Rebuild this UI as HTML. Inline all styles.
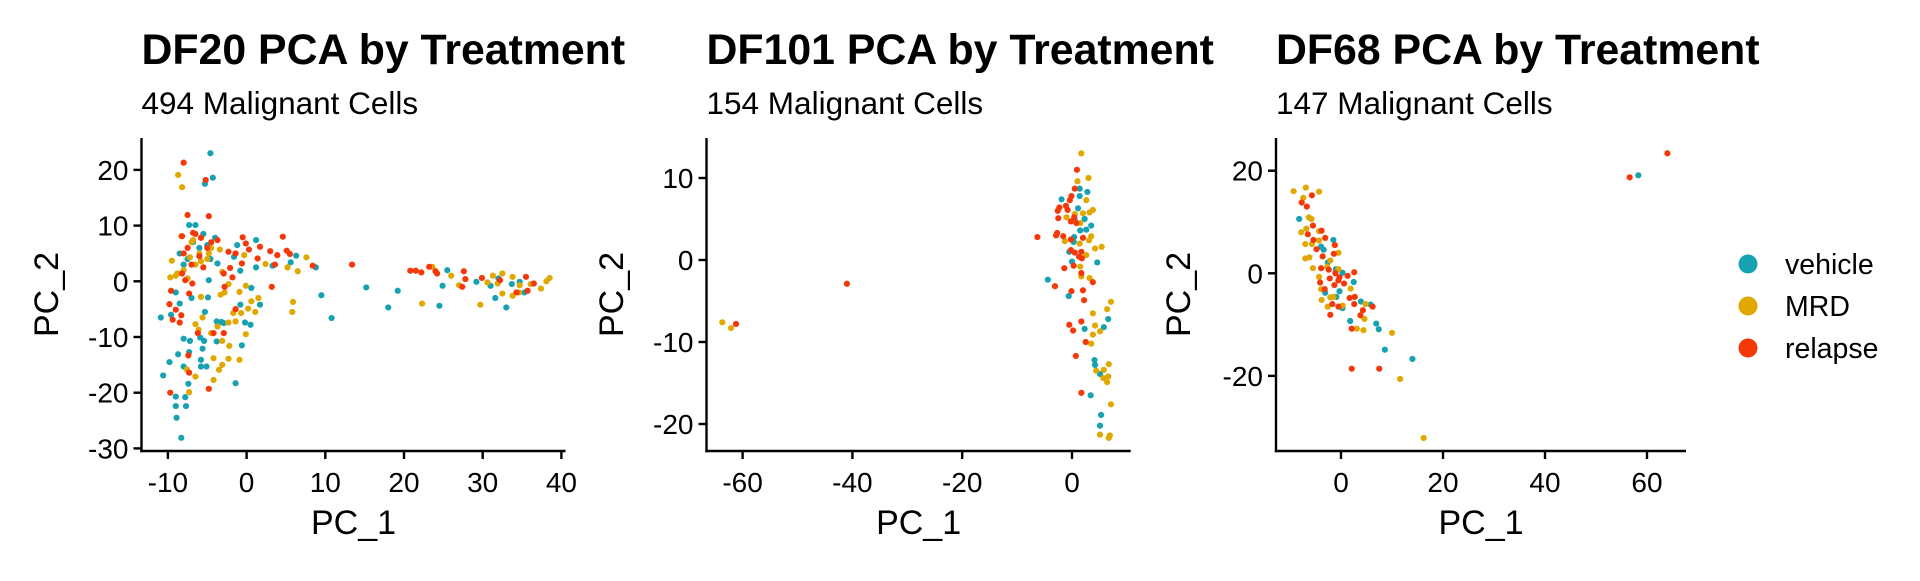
<!DOCTYPE html>
<html><head><meta charset="utf-8"><style>
html,body{margin:0;padding:0;background:#fff;}
svg text{font-family:"Liberation Sans",Arial,sans-serif;fill:#000;}
</style></head><body>
<svg id="chart" width="1920" height="576" viewBox="0 0 1920 576" xmlns="http://www.w3.org/2000/svg"></svg>
<script>
// Panel 1 (DF20)
const p1Vehicle = [[-4.6,23.0],[-4.3,18.6],[-5.3,17.5],[-7.3,10.1],[-6.5,10.1],[-10.6,-16.9],[-9.8,-14.5],[-8.7,-13.1],[-10.9,-6.5],[-9.0,-20.7],[-9.0,-22.4],[-7.7,-22.4],[-8.9,-24.5],[-8.3,-28.1],[-7.8,-20.8],[-8.0,-15.3],[-7.4,-18.4],[-8.0,-10.3],[-7.2,-10.7],[-7.3,-12.7],[-5.6,-12.1],[-5.8,-14.1],[-5.8,-15.3],[-5.1,-15.3],[-5.9,-10.1],[-5.4,-10.7],[-3.8,-10.8],[-1.4,-18.3],[-0.6,-11.5],[-0.2,-7.4],[0.5,-7.8],[-0.8,-4.2],[0.6,-1.2],[-2.9,-7.5],[-3.2,-7.3],[-3.8,-7.2],[-5.3,-5.5],[-4.9,-2.9],[-4.8,0.2],[-4.6,4.0],[-3.7,3.2],[-1.6,4.4],[-0.8,1.9],[-1.2,6.5],[1.2,7.4],[1.2,2.5],[3.3,2.8],[1.7,-4.2],[5.6,3.4],[6.3,4.6],[8.8,2.5],[9.5,-2.5],[10.8,-6.6],[15.2,-1.1],[18.0,-4.7],[19.2,-1.7],[24.9,-0.8],[24.5,-4.4],[25.5,2.0],[29.2,-0.1],[31.0,-0.8],[31.6,-3.0],[33.0,-4.7],[35.3,-2.0],[32.0,0.5],[33.7,-0.5],[34.7,-0.1],[-8.5,5],[-7.5,4],[-6.8,7],[-5.5,8.5],[-5,6.5],[-4.0,7.8],[-6,6],[-8,3],[-9,-2],[-8.5,-4],[-9.6,-6],[-7,-3]];
const p1MRD = [[-8.7,19.1],[-8.2,16.9],[-8.3,8.1],[-8.8,1.4],[-9.5,3.7],[-9.7,0.7],[-7.2,4.3],[-6.8,7.4],[-5.8,3.6],[-4.8,5.0],[-3.4,5.7],[-3.1,1.7],[-2.3,-0.5],[-0.3,4.7],[2.4,3.1],[5.2,2.5],[6.5,1.8],[7.6,4.3],[5.9,-3.7],[5.8,-5.5],[-0.1,-0.8],[-0.9,-1.9],[0.2,-4.9],[1.1,-5.5],[1.5,-3.0],[0.6,-3.6],[-0.7,-5.7],[-1.7,-5.7],[-1.4,-7.2],[-2.3,-7.4],[-3.7,-8.1],[-0.1,-9.5],[-0.9,-14.1],[-2.2,-11.6],[-2.3,-13.9],[-3.1,-15.0],[-3.5,-15.9],[-4.2,-17.7],[-4.2,-13.8],[-3.1,-10.7],[-4.5,-9.3],[-6.5,-7.7],[-6.1,-8.7],[-5.6,-6.5],[-6.5,-17.1],[-7.3,-19.9],[-7.6,-15.8],[-5.8,-2.8],[-3.3,-2.4],[-2.8,-2.0],[22.3,-4.0],[23.6,2.6],[26.0,1.0],[27.0,-0.7],[29.7,-4.2],[30.6,-0.2],[31.3,1.0],[32.5,1.4],[33.8,0.8],[34.6,-2.0],[33.8,-2.6],[37.4,-1.3],[38.1,0.0],[38.5,0.6],[36.1,-0.5],[34.7,-0.7],[32.5,-2.2],[31.9,-0.4],[-7,7],[-6,5],[-5,4],[-4.5,6],[-8,2],[-7.5,0.5],[-9,1],[-6.5,3]];
const p1Relapse = [[-8.0,21.3],[-5.2,18.2],[-7.5,11.9],[-4.8,11.7],[-8.2,8.1],[-6.8,8.7],[-3.7,7.4],[-0.5,7.9],[-0.1,6.8],[0.3,5.7],[1.7,6.2],[1.4,4.1],[-0.6,3.2],[-1.4,5.0],[-2.3,5.3],[-2.9,1.4],[-2.1,2.4],[-2.8,-1.0],[-1.8,0.7],[-1.4,-5.0],[3.0,5.4],[3.9,4.7],[4.6,8.0],[5.1,5.5],[5.5,4.9],[3.6,3.0],[3.2,-1.0],[8.4,2.8],[13.4,3.0],[20.8,1.9],[21.5,1.9],[22.2,1.6],[23.2,2.6],[24.0,1.8],[24.2,1.4],[27.6,1.8],[27.8,0.4],[27.4,-1.0],[29.9,0.6],[32.2,0.2],[34.3,-2.0],[35.5,0.8],[36.5,-0.4],[35.7,-1.7],[-9.6,-1.7],[-9.8,-4.1],[-9.4,-6.9],[-8.5,-7.4],[-8.3,-6.1],[-9.0,-5.1],[-7.3,-2.2],[-7.8,0.2],[-8.2,1.4],[-6.9,-0.4],[-9.7,-20.0],[-7.4,-13.3],[-7.3,-16.4],[-4.8,-19.3],[-4.2,-9.3],[-6.2,-9.3],[-2.9,-9.3],[-6.5,8.5],[-5.8,7.8],[-5,6],[-6,4.5],[-7,3],[-8,5],[-4.5,7],[-5.5,2.5],[-7.5,6]];
// Panel 2 (DF101)
const p2Vehicle = [[1.4,8.7],[2.8,8.3],[1.4,7.8],[-1.9,7.4],[1.1,6.3],[2.3,5.0],[3.5,4.2],[2.6,3.7],[1.5,3.6],[0.4,2.8],[0.3,2.2],[-0.5,1.0],[0.0,-0.2],[4.6,-0.3],[-4.4,-2.4],[-0.6,-4.4],[6.6,-7.2],[5.8,-8.2],[2.3,-8.4],[4.1,-12.2],[4.2,-12.8],[5.1,-13.9],[3.4,-16.5],[5.3,-18.9],[5.1,-20.2],[0.5,4.9]];
const p2MRD = [[-63.7,-7.6],[-62.1,-8.3],[1.7,13.0],[3.0,10.0],[1.0,9.6],[2.6,7.3],[3.8,6.1],[2.0,5.7],[3.2,5.8],[-1.0,5.2],[1.5,4.5],[3.5,2.9],[3.1,2.4],[-1.3,2.3],[1.4,2.0],[4.2,1.4],[5.4,1.6],[2.6,0.6],[1.5,-0.8],[1.7,-2.0],[3.2,-2.2],[7.1,-5.1],[6.4,-6.0],[3.8,-6.5],[4.2,-8.0],[5.1,-8.7],[3.8,-9.1],[3.5,-10.2],[6.7,-12.7],[4.4,-13.5],[5.8,-13.4],[5.7,-14.4],[6.6,-14.2],[6.4,-14.9],[7.1,-17.6],[5.1,-21.3],[6.7,-21.7],[6.9,-21.4],[0.5,5.6]];
const p2Relapse = [[-41.0,-2.9],[-61.2,-7.8],[0.9,11.0],[0.5,8.7],[-0.1,7.8],[-0.4,7.3],[-1.1,6.6],[-2.3,6.4],[-2.6,6.0],[-0.8,6.1],[-2.5,5.1],[0.4,5.2],[-0.2,4.7],[0.8,4.5],[-6.3,2.8],[-2.7,3.3],[-2.9,3.0],[-1.6,2.9],[-0.2,2.5],[2.0,2.7],[-0.2,1.2],[1.7,1.0],[0.5,0.9],[1.3,0.4],[1.8,0.2],[0.3,-0.7],[-1.4,-1.0],[1.7,-1.6],[3.8,-2.7],[-3.1,-3.2],[-0.1,-3.8],[2.0,-3.7],[2.2,-4.9],[-0.5,-7.9],[0.2,-8.6],[1.7,-7.5],[2.5,-10.0],[0.7,-11.7],[1.7,-16.2]];
// Panel 3 (DF68)
const p3Vehicle = [[58.3,19.1],[-8.2,10.6],[-1.5,6.5],[-3.4,4.6],[-2.6,2.1],[-1.0,0.8],[0.3,0.1],[2.5,-1.7],[-3.1,-3.8],[-0.3,-3.5],[-0.9,-4.6],[0.3,-6.8],[3.9,-5.5],[5.8,-6.1],[1.8,-9.3],[6.9,-9.8],[7.4,-10.9],[8.6,-14.9],[14.0,-16.7],[-3.9,5.2]];
const p3MRD = [[-9.3,16.0],[-6.9,16.7],[-4.3,15.9],[-7.4,14.7],[-6.3,10.9],[-5.8,10.6],[-6.8,8.7],[-7.8,8.0],[-4.3,8.2],[-7.0,5.7],[-5.7,5.7],[-4.3,6.4],[-7.0,2.9],[-6.2,3.1],[-5.5,1.0],[-2.7,1.3],[-0.5,4.0],[-0.5,0.8],[-4.3,-0.7],[-3.9,-3.1],[-2.1,-4.7],[-3.8,-5.2],[-2.6,-6.5],[1.9,-3.0],[0.3,-6.3],[4.8,-6.0],[4.6,-8.9],[3.1,-10.8],[4.4,-11.1],[10.0,-11.6],[11.6,-20.6],[16.2,-32.1],[-1.5,-4.6],[-2.1,2.5]];
const p3Relapse = [[64.0,23.4],[56.6,18.7],[-5.7,15.2],[-7.7,13.8],[-6.7,13.0],[-5.5,9.3],[-3.8,8.3],[-6.5,7.6],[-3.1,6.9],[-5.4,6.5],[-1.2,5.5],[-4.8,4.7],[-1.4,3.8],[-3.6,3.3],[-3.9,1.0],[-2.4,0.7],[2.6,0.2],[-1.1,0.0],[1.3,-0.5],[-2.2,-1.0],[-0.5,-1.4],[-4.1,-1.8],[0.6,-2.0],[-3.2,-3.1],[-1.3,-2.3],[2.7,-4.6],[1.7,-4.8],[2.6,-6.0],[-1.7,-6.0],[-0.5,-6.5],[6.2,-6.5],[4.3,-7.2],[-2.1,-8.1],[3.8,-8.2],[2.1,-10.8],[2.1,-18.6],[7.5,-18.6],[-0.3,-0.8]];
const p1XTicks = [-10,0,10,20,30,40];
const p1YTicks = [20,10,0,-10,-20,-30];
const p2XTicks = [-60,-40,-20,0];
const p2YTicks = [10,0,-10,-20];
const p3XTicks = [0,20,40,60];
const p3YTicks = [20,0,-20];
const titles = ["DF20 PCA by Treatment","DF101 PCA by Treatment","DF68 PCA by Treatment"];
const subtitles = ["494 Malignant Cells","154 Malignant Cells","147 Malignant Cells"];
const legendLabels = ["vehicle","MRD","relapse"];
const colors = ["#17A2B1","#E0A800","#F5380A"];

const NS = "http://www.w3.org/2000/svg";
const svg = document.getElementById("chart");
function mk(tag, attrs, parent){
  const e = document.createElementNS(NS, tag);
  for (const k in attrs) e.setAttribute(k, attrs[k]);
  (parent||svg).appendChild(e);
  return e;
}
const panels = [
  {x0:246.6, kx:7.87, y0:281.3, ky:5.57, left:141.5, right:565.5, xt:p1XTicks, yt:p1YTicks, series:[p1Vehicle,p1MRD,p1Relapse], ylab:58},
  {x0:1072, kx:5.49, y0:260, ky:8.2, left:706.5, right:1130.7, xt:p2XTicks, yt:p2YTicks, series:[p2Vehicle,p2MRD,p2Relapse], ylab:623},
  {x0:1341, kx:5.1, y0:273.3, ky:5.13, left:1276, right:1686, xt:p3XTicks, yt:p3YTicks, series:[p3Vehicle,p3MRD,p3Relapse], ylab:1190}
];
const TOP = 138, BOT = 451;
panels.forEach((p, i) => {
  const g = mk("g", {});
  
  
  const sx = v => p.x0 + p.kx * v;
  const sy = v => p.y0 - p.ky * v;
  const t = mk("text", {x:p.left, y:64, "font-size":42.8, "font-weight":"bold"}, g);
  t.textContent = titles[i];
  
  
  const st = mk("text", {x:p.left, y:114, "font-size":31.5}, g);
  st.textContent = subtitles[i];
  
  
  p.series.forEach((arr, si) => {
    arr.forEach(d => {
      const c = mk("circle", {cx:sx(d[0]), cy:sy(d[1]), r:3.1, fill:colors[si]}, g);
      
      
    });
  });
  const ya = mk("line", {x1:p.left, y1:TOP, x2:p.left, y2:BOT+1.2, stroke:"#000", "stroke-width":2.4}, g);
  
  
  const xa = mk("line", {x1:p.left-1.2, y1:BOT, x2:p.right, y2:BOT, stroke:"#000", "stroke-width":2.4}, g);
  
  
  p.xt.forEach(v => {
    const tk = mk("line", {x1:sx(v), y1:BOT, x2:sx(v), y2:BOT+8, stroke:"#000", "stroke-width":2.4}, g);
    
    
    const tl = mk("text", {x:sx(v), y:492, "font-size":28, "text-anchor":"middle"}, g);
    tl.textContent = String(v);
    
    
  });
  p.yt.forEach(v => {
    const tk = mk("line", {x1:p.left-8, y1:sy(v), x2:p.left, y2:sy(v), stroke:"#000", "stroke-width":2.4}, g);
    
    
    const tl = mk("text", {x:p.left-13, y:sy(v)+10, "font-size":28, "text-anchor":"end"}, g);
    tl.textContent = String(v);
    
    
  });
  const xt = mk("text", {x:(p.left+p.right)/2, y:534, "font-size":34, "text-anchor":"middle"}, g);
  xt.textContent = "PC_1";
  
  
  const yt = mk("text", {x:0, y:0, "font-size":34, "text-anchor":"middle", transform:`translate(${p.ylab},${(TOP+BOT)/2}) rotate(-90)`}, g);
  yt.textContent = "PC_2";
  
  
});
const lg = mk("g", {});


const legY = [264, 306, 348];
legendLabels.forEach((lab, i) => {
  const c = mk("circle", {cx:1748, cy:legY[i], r:9.5, fill:colors[i]}, lg);
  
  
  const t = mk("text", {x:1785, y:legY[i]+10, "font-size":28.5}, lg);
  t.textContent = lab;
  
  
});
</script>
</body></html>
